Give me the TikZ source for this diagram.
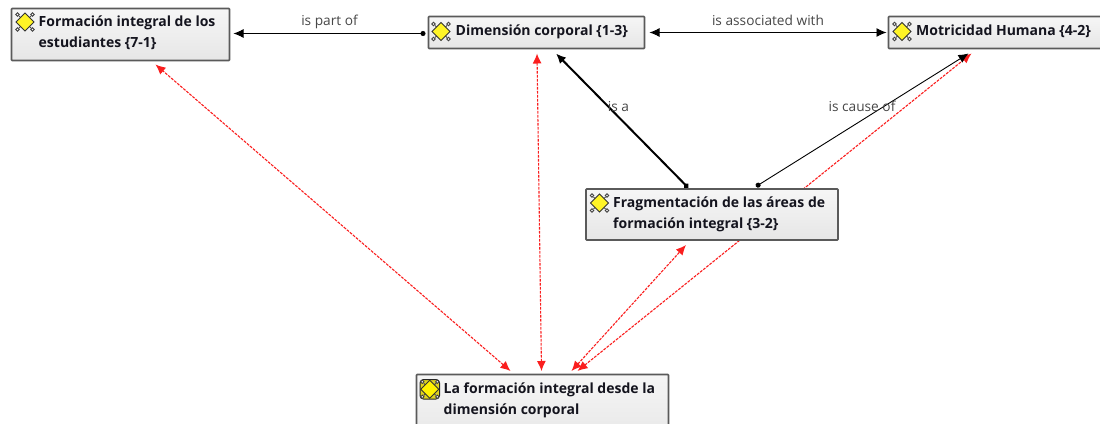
\documentclass[tikz,border=0pt]{standalone}
\usepackage{fontspec}
\setmainfont{Open Sans}
\usetikzlibrary{arrows.meta,backgrounds,calc}
\definecolor{boxedge}{HTML}{5A5A5A}
\definecolor{ink}{HTML}{14141E}
\definecolor{redline}{HTML}{FA1E1E}
\definecolor{boxtop}{HTML}{F6F6F6}
\definecolor{boxbot}{HTML}{E6E6E6}
\tikzset{
  x=1pt,y=-1pt,
  conceptbox/.style={draw=boxedge,line width=1.6pt,rounded corners=0.8pt,top color=boxtop,bottom color=boxbot,anchor=north west,inner sep=0pt,outer sep=0pt},
  concepttext/.style={anchor=north west,align=left,inner sep=0pt,font=\fontsize{14}{21}\selectfont\bfseries,text=ink},
  linklabel/.style={font=\fontsize{13.7}{15}\selectfont,text=black!72,inner sep=0pt},
  link/.style={black,line width=0.9pt},
  thicklink/.style={black,line width=2pt},
  redlink/.style={redline,line width=1.1pt,dash pattern=on 2.8pt off 1.2pt},
  bothheads/.style={{Latex[length=10pt,width=9pt]}-{Latex[length=10pt,width=9pt]}},
  tailhead/.style={{Circle[length=5pt,width=5pt]}-{Latex[length=10pt,width=9pt]}},
  pics/icon/.style={code={
    \draw[black!70,line width=1pt] (-6,-6) -- (6,6) (6,-6) -- (-6,6);
    \foreach \sx/\sy in {-1/-1,1/-1,1/1,-1/1}
      \draw[black!75,line width=0.9pt,fill=white] (\sx*7.5,\sy*7.5) circle (1.7pt);
    \draw[black!80,line width=0.9pt,fill=#1] (0,-9) -- (9,0) -- (0,9) -- (-9,0) -- cycle;
  }},
}
\begin{document}
\begin{tikzpicture}
\useasboundingbox (0,0) rectangle (1100,423);
\clip (0,0) rectangle (1100,423);
% concept boxes
\node[conceptbox,minimum width=218pt,minimum height=52pt] (A) at (11.5,8.5) {};
\node[conceptbox,minimum width=216pt,minimum height=32pt] (B) at (428.5,16.5) {};
\node[conceptbox,minimum width=220pt,minimum height=32pt] (C) at (888.5,16.5) {};
\node[conceptbox,minimum width=252pt,minimum height=51pt] (D) at (586,189) {};
\node[conceptbox,minimum width=252pt,minimum height=70pt] (E) at (416.5,374.5) {};
% texts
\node[concepttext] (At) at (38.5,16) {Formación integral de los\\estudiantes \{7-1\}};
\node[concepttext] (Bt) at (455.5,25) {Dimensión corporal \{1-3\}};
\node[concepttext] (Ct) at (916,24.5) {Motricidad Humana \{4-2\}};
\node[concepttext] (Dt) at (613,197) {Fragmentación de las áreas de\\formación integral \{3-2\}};
\node[concepttext] (Et) at (443.5,383) {La formación integral desde la\\dimensión corporal};
% icons
\pic at (25,22) {icon=yellow!85!white};
\pic at (441,31.5) {icon=yellow!85!white};
\pic at (902,31.5) {icon=yellow!85!white};
\pic at (599.5,203) {icon=yellow!85!white};
\draw[black!85,line width=1pt,fill=yellow!85!black,rounded corners=3.5pt] (420,379.5) rectangle (439.5,399);
\pic at (429.8,389.3) {icon=yellow};
% connectors
\begin{scope}[on background layer]
\draw[redlink,bothheads] ([shift={(-91,-3.5)}]E.north east) -- ([shift={(83,37)}]C.north west);
\end{scope}
\draw[link,tailhead] ([shift={(-3,1)}]B.west) -- ([shift={(4,-1)}]A.east)
  node[pos=0.5,linklabel,yshift=11.5pt] (l1) {is part of};
\draw[link,bothheads] ([shift={(5,0)}]B.east) -- ([shift={(-2,0)}]C.west)
  node[pos=0.5,linklabel,yshift=12pt] (l2) {is associated with};
\draw[thicklink,tailhead] ([shift={(102,-1.5)}]D.north west) -- ([shift={(19.5,5)}]B.south);
\node[linklabel] (l3) at (618.5,107) {is a};
\draw[link,tailhead] ([shift={(170,-2.5)}]D.north west) -- ([shift={(80,37)}]C.north west);
\node[linklabel] (l4) at (862,106.5) {is cause of};
\draw[redlink,bothheads] ([shift={(155,-3.5)}]E.north west) -- ([shift={(100,5)}]D.south west);
\draw[redlink,bothheads] ([shift={(94,-3.5)}]E.north west) -- ([shift={(144,4)}]A.south west);
\draw[redlink,bothheads] ([shift={(125,-3.5)}]E.north west) -- ([shift={(108.5,5)}]B.south west);
\end{tikzpicture}
\end{document}
